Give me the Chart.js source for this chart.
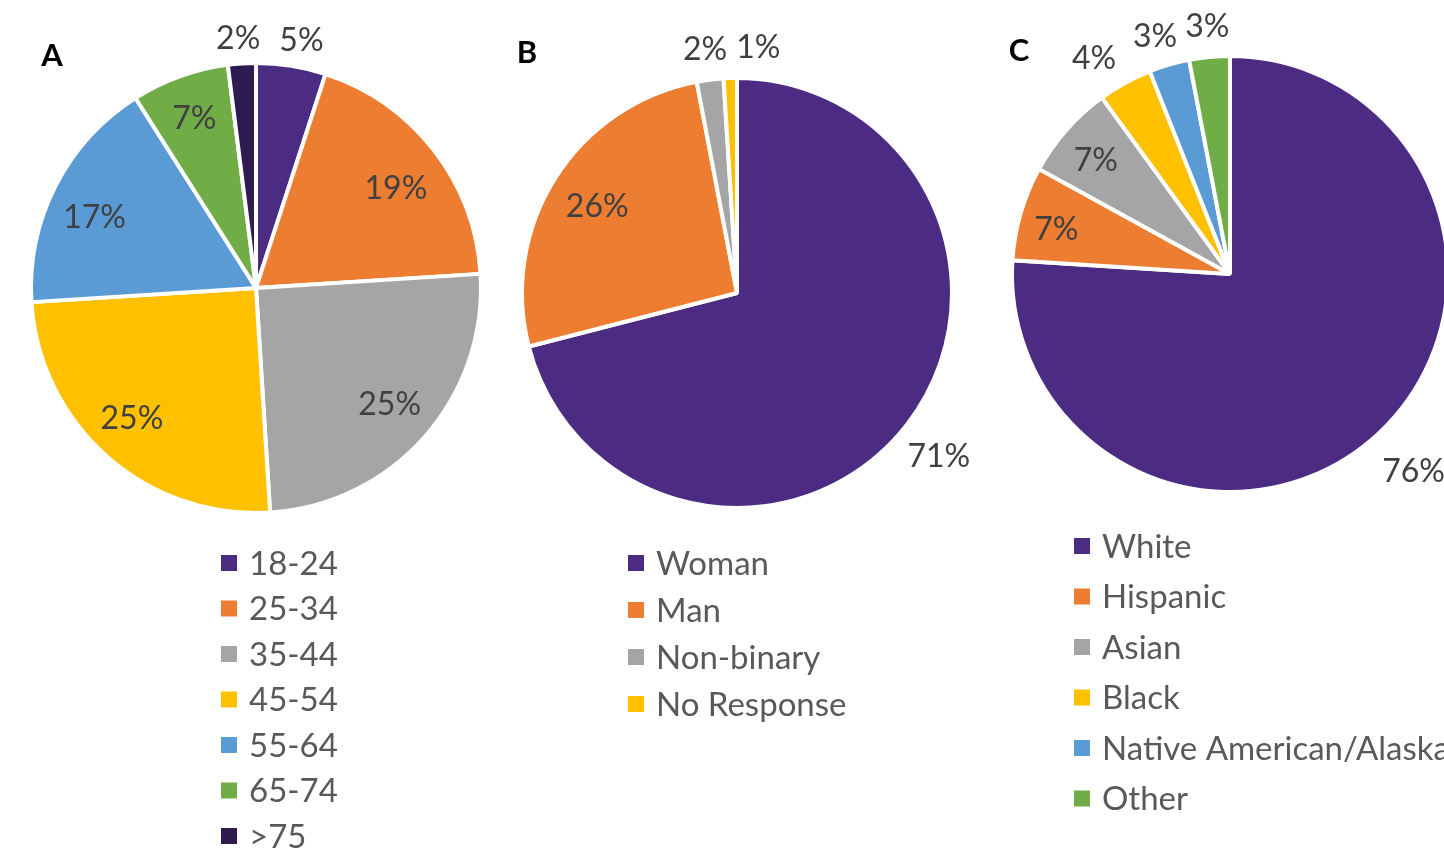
<!DOCTYPE html>
<html>
<head>
<meta charset="utf-8">
<title>Respondent demographics</title>
<script src="https://cdn.jsdelivr.net/npm/chart.js@4.4.0/dist/chart.umd.min.js"></script>
<style>
  html, body { margin: 0; padding: 0; background: #fff; overflow: hidden; }
  #page { position: relative; width: 1444px; height: 854px; overflow: hidden; }
  #page canvas { position: absolute; top: 0; }
</style>
</head>
<body>
<div id="page">
  <canvas id="chartA" width="500" height="854" style="left:0px"></canvas>
  <canvas id="chartB" width="490" height="854" style="left:500px"></canvas>
  <canvas id="chartC" width="700" height="854" style="left:990px"></canvas>
</div>
<script>
// Age groups (%)
const ageLabels = ['18-24', '25-34', '35-44', '45-54', '55-64', '65-74', '>75'];
const agePercent = [5, 19, 25, 25, 17, 7, 2];

// Gender (%)
const genderLabels = ['Woman', 'Man', 'Non-binary', 'No Response'];
const genderPercent = [71, 26, 2, 1];

// Race / ethnicity (%)
const raceLabels = ['White', 'Hispanic', 'Asian', 'Black', 'Native American/Alaska Native', 'Other'];
const racePercent = [76, 7, 7, 4, 3, 3];

const PURPLE = '#4B2C82', ORANGE = '#ED7D31', GREY = '#A5A5A5', GOLD = '#FFC000',
      BLUE = '#5B9BD5', GREEN = '#70AD47', DARK = '#2E1B4F';

const FONT = 'Lato, "Open Sans", sans-serif';
const SEP = 4; // white gap between slices

// percent labels, placed along each slice's middle angle
const sliceLabels = {
  id: 'sliceLabels',
  afterDatasetsDraw(chart, args, opts) {
    const ctx = chart.ctx;
    const meta = chart.getDatasetMeta(0);
    const values = chart.data.datasets[0].data;
    ctx.save();
    ctx.font = '32px ' + FONT;
    ctx.fillStyle = '#404040';
    ctx.textAlign = 'center';
    ctx.textBaseline = 'middle';
    meta.data.forEach((arc, i) => {
      const p = arc.getProps(['x', 'y', 'startAngle', 'endAngle', 'outerRadius'], true);
      const mid = (p.startAngle + p.endAngle) / 2;
      const r = p.outerRadius * opts.radius[i];
      const nudge = (opts.nudge && opts.nudge[i]) || [0, 0];
      ctx.fillText(values[i] + '%', p.x + Math.cos(mid) * r + nudge[0], p.y + Math.sin(mid) * r + nudge[1] + 2);
    });
    ctx.restore();
  }
};

// vertical legend with square swatches below the pie
const listLegend = {
  id: 'listLegend',
  afterDraw(chart, args, opts) {
    const ctx = chart.ctx;
    const colors = chart.data.datasets[0].backgroundColor;
    ctx.save();
    ctx.font = '33px ' + FONT;
    ctx.textBaseline = 'middle';
    chart.data.labels.forEach((label, i) => {
      const y = opts.y + i * opts.gap;
      ctx.fillStyle = colors[i];
      ctx.fillRect(opts.x, y - 8, 16, 16);
      ctx.fillStyle = '#595959';
      ctx.fillText(label, opts.x + 28, y + 1);
    });
    ctx.restore();
  }
};

// bold panel letter
const panelTag = {
  id: 'panelTag',
  afterDraw(chart, args, opts) {
    const ctx = chart.ctx;
    ctx.save();
    ctx.font = 'bold 31px ' + FONT;
    ctx.fillStyle = '#000';
    ctx.textAlign = 'center';
    ctx.textBaseline = 'middle';
    ctx.fillText(opts.text, opts.x, opts.y);
    ctx.restore();
  }
};

function piePadding(canvas, cx, cy, r) {
  const R = r + SEP / 2;
  return { left: cx - R, top: cy - R, right: canvas.width - cx - R, bottom: canvas.height - cy - R };
}

function makePie(id, labels, values, colors, geo, labelOpts, legendOpts, tag) {
  const canvas = document.getElementById(id);
  return new Chart(canvas.getContext('2d'), {
    type: 'pie',
    data: {
      labels: labels,
      datasets: [{
        data: values,
        backgroundColor: colors,
        borderColor: '#ffffff',
        borderWidth: SEP,
        clip: false
      }]
    },
    options: {
      responsive: false,
      animation: false,
      events: [],
      layout: { padding: piePadding(canvas, geo.cx, geo.cy, geo.r) },
      plugins: {
        legend: { display: false },
        tooltip: { enabled: false },
        sliceLabels: labelOpts,
        listLegend: legendOpts,
        panelTag: tag
      }
    },
    plugins: [sliceLabels, listLegend, panelTag]
  });
}

makePie('chartA', ageLabels, agePercent,
  [PURPLE, ORANGE, GREY, GOLD, BLUE, GREEN, DARK],
  { cx: 256, cy: 288, r: 225 },
  { radius: [1.12, 0.77, 0.78, 0.78, 0.78, 0.81, 1.12], nudge: [[6, 0], [3, 5], [2, -1], [-8, -3], [-5, 7], null, [-2, 0]] },
  { x: 221, y: 563, gap: 45.5 },
  { text: 'A', x: 52, y: 56 });

makePie('chartB', genderLabels, genderPercent,
  [PURPLE, ORANGE, GREY, GOLD],
  { cx: 237, cy: 293, r: 215 },
  { radius: [1.2, 0.77, 1.15, 1.15], nudge: [[-2, 4], null, [-1, 0], [29, 0]] },
  { x: 128, y: 563, gap: 47 },
  { text: 'B', x: 27, y: 53 });

makePie('chartC', raceLabels, racePercent,
  [PURPLE, ORANGE, GREY, GOLD, BLUE, GREEN],
  { cx: 240, cy: 274, r: 218 },
  { radius: [1.23, 0.83, 0.82, 1.18, 1.15, 1.15], nudge: [null, [0, 4], [0, 3], [-12, 8], [-5, 1], [1, 0]] },
  { x: 84, y: 546, gap: 50.5 },
  { text: 'C', x: 29, y: 51 });
</script>
</body>
</html>
